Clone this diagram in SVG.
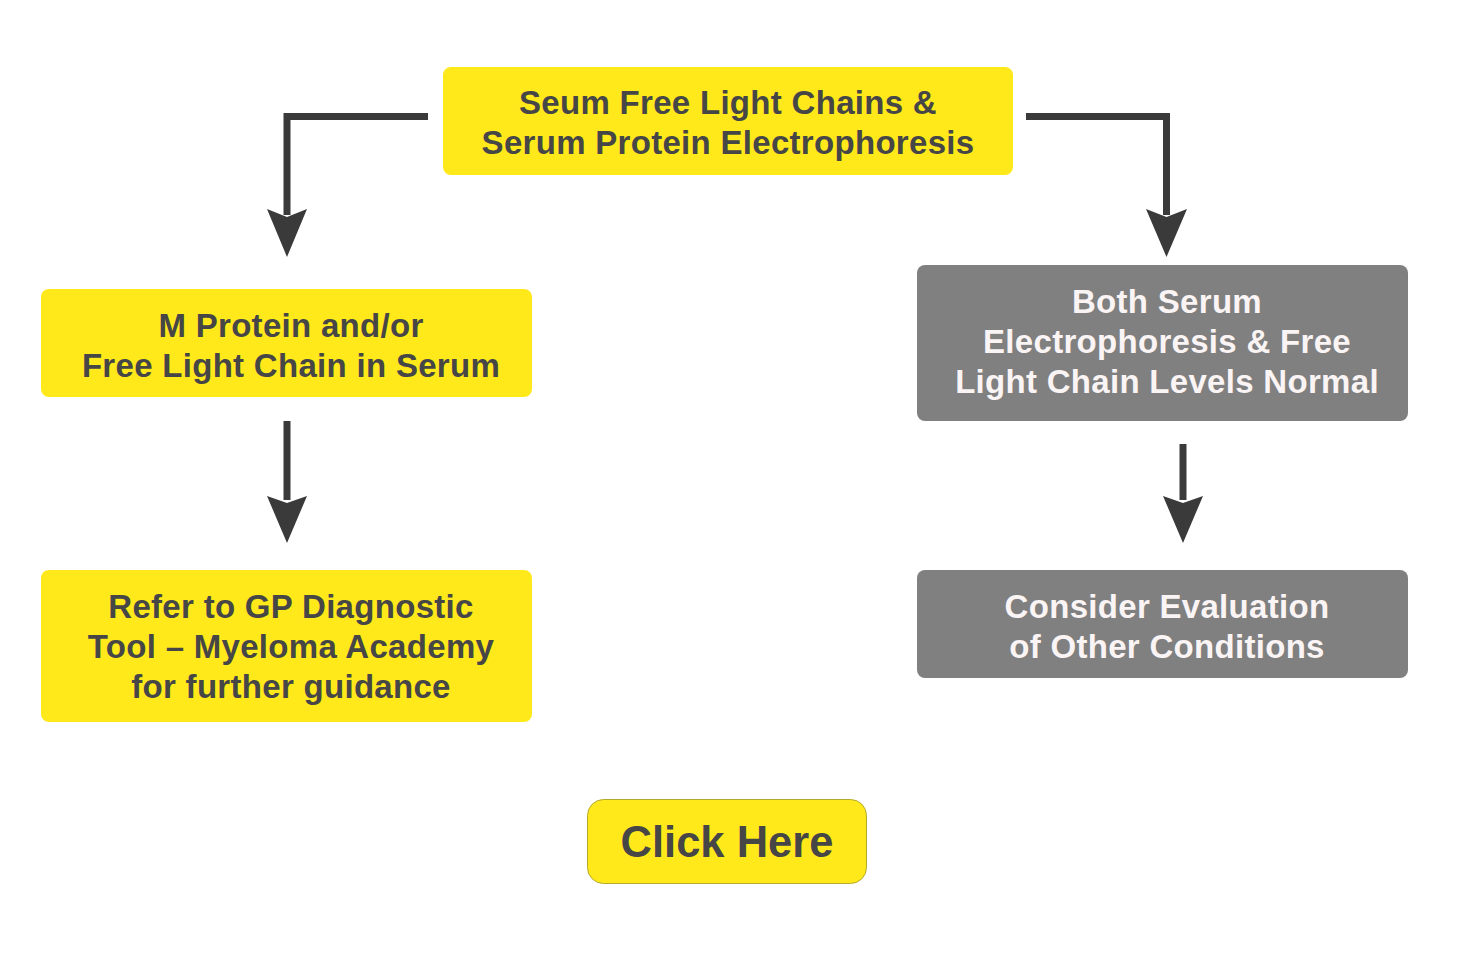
<svg xmlns="http://www.w3.org/2000/svg" width="1457" height="953" viewBox="0 0 1457 953">
<style>
.y{fill:#FFE91B}
.g{fill:#808080}
.t{font-family:"Liberation Sans",Arial,sans-serif;font-weight:bold;font-size:33px;letter-spacing:0.3px;text-anchor:middle;fill:#464646}
.w{fill:#FAF4F5}
.c{fill:none;stroke:#3A3A3A;stroke-width:7}
.h{fill:#3A3A3A}
</style>
<rect width="1457" height="953" fill="#FFFFFF"/>
<g id="connectors">
<path class="c" d="M428,116.5 H287 V215"/>
<path class="h" d="M267,209 L287,217 L307,209 L287,257 Z"/>
<path class="c" d="M1026,116.5 H1166.5 V215"/>
<path class="h" d="M1146,209 L1166.5,217 L1187,209 L1166.5,257 Z"/>
<path class="c" d="M287,421 V500"/>
<path class="h" d="M267,496 L287,503 L307,496 L287,543 Z"/>
<path class="c" d="M1183,444 V500"/>
<path class="h" d="M1163,496 L1183,503 L1203,496 L1183,543 Z"/>
</g>
<g id="top">
<rect class="y" x="443" y="67" width="570" height="108" rx="8"/>
<text class="t" x="728" y="114">Seum Free Light Chains &amp;</text>
<text class="t" x="728" y="154">Serum Protein Electrophoresis</text>
</g>
<g id="mprotein">
<rect class="y" x="41" y="289" width="491" height="108" rx="8"/>
<text class="t" x="291" y="337">M Protein and/or</text>
<text class="t" x="291" y="377">Free Light Chain in Serum</text>
</g>
<g id="refer">
<rect class="y" x="41" y="570" width="491" height="152" rx="8"/>
<text class="t" x="291" y="618">Refer to GP Diagnostic</text>
<text class="t" x="291" y="658">Tool – Myeloma Academy</text>
<text class="t" x="291" y="698">for further guidance</text>
</g>
<g id="normal">
<rect class="g" x="917" y="265" width="491" height="156" rx="8"/>
<text class="t w" x="1167" y="313">Both Serum</text>
<text class="t w" x="1167" y="353">Electrophoresis &amp; Free</text>
<text class="t w" x="1167" y="393">Light Chain Levels Normal</text>
</g>
<g id="consider">
<rect class="g" x="917" y="570" width="491" height="108" rx="8"/>
<text class="t w" x="1167" y="618">Consider Evaluation</text>
<text class="t w" x="1167" y="658">of Other Conditions</text>
</g>
<g id="click">
<rect class="y" x="587.5" y="799.5" width="279" height="84" rx="16" stroke="#B5A82A" stroke-width="1"/>
<text class="t" x="727" y="857" style="font-size:43.5px;letter-spacing:0">Click Here</text>
</g>
</svg>
